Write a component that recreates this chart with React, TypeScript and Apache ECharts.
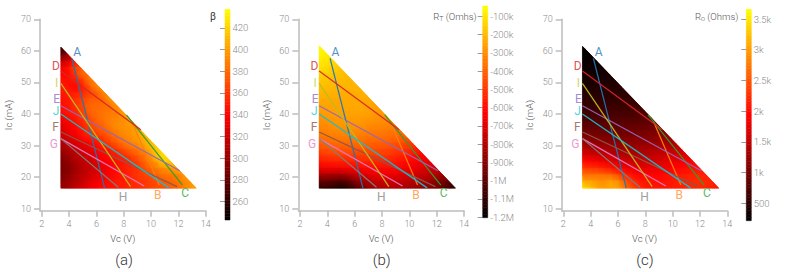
import React, { useEffect, useRef } from "react";
import * as echarts from "echarts";

const FONT = "Roboto";
const WEIGHT = 300;

const vcCenters = [3.65, 4.15, 4.65, 5.15, 5.65, 6.15, 6.65, 7.15, 7.65, 8.15, 8.65, 9.15, 9.65, 10.15, 10.65, 11.15, 11.65, 12.15, 12.65, 13.15];
const icCenters = [17.5, 19.5, 21.5, 23.5, 25.5, 27.5, 29.5, 31.5, 33.5, 35.5, 37.5, 39.5, 41.5, 43.5, 45.5, 47.5, 49.5, 51.5, 53.5, 55.5, 57.5, 59.5, 61.5];

const betaRows = [
  [300, 310, 320, 325, 335, 340, 345, 345, 350, 350, 355, 355, 360, 365, 370, 370, 375, 380, 390, 400],
  [295, 305, 310, 320, 330, 335, 340, 345, 350, 350, 355, 360, 360, 365, 370, 375, 380, 385, 395],
  [290, 300, 310, 315, 320, 330, 335, 340, 345, 350, 355, 360, 365, 370, 380, 385, 385, 390, 400],
  [290, 295, 305, 315, 320, 325, 335, 340, 345, 350, 355, 360, 370, 380, 390, 395, 400, 405],
  [290, 300, 310, 315, 320, 330, 335, 340, 345, 350, 355, 365, 380, 390, 405, 420, 415],
  [295, 305, 315, 320, 325, 335, 340, 345, 350, 355, 365, 375, 385, 400, 420, 425],
  [305, 310, 320, 325, 330, 340, 345, 350, 360, 370, 380, 385, 395, 410, 420],
  [310, 320, 325, 335, 340, 345, 355, 365, 375, 385, 390, 395, 405, 415],
  [320, 330, 335, 345, 350, 355, 365, 375, 385, 390, 395, 400, 410],
  [325, 335, 340, 350, 360, 370, 375, 385, 390, 395, 395, 405],
  [330, 340, 345, 355, 365, 375, 380, 390, 395, 395, 400],
  [335, 345, 350, 360, 370, 380, 385, 390, 390, 395, 405],
  [345, 350, 355, 365, 380, 380, 385, 385, 390, 405],
  [345, 350, 360, 370, 380, 380, 380, 385, 400],
  [345, 350, 360, 365, 375, 375, 380, 400],
  [350, 350, 350, 355, 365, 375, 395],
  [350, 345, 340, 355, 375, 395],
  [345, 345, 350, 365, 390],
  [340, 345, 365, 385],
  [335, 350, 370],
  [310, 335, 350],
  [280, 310],
  [260],
];

const rtRows = [
  [-1080, -1100, -1120, -1150, -1100, -1030, -950, -880, -830, -800, -800, -810, -820, -840, -860, -880, -910, -950, -1000, -1080],
  [-960, -980, -1000, -1030, -980, -900, -830, -780, -750, -740, -740, -750, -760, -780, -800, -820, -850, -890, -950],
  [-800, -820, -830, -830, -800, -760, -720, -690, -670, -670, -670, -680, -700, -720, -740, -760, -780, -810, -850],
  [-650, -650, -650, -650, -640, -630, -620, -610, -610, -610, -610, -620, -640, -660, -680, -700, -720, -750],
  [-570, -570, -560, -560, -560, -550, -550, -550, -550, -550, -560, -580, -600, -620, -640, -660, -680],
  [-510, -500, -490, -490, -490, -490, -490, -490, -500, -500, -520, -540, -560, -580, -610, -630],
  [-450, -440, -430, -430, -430, -430, -440, -450, -450, -460, -470, -490, -510, -530, -560],
  [-400, -390, -380, -380, -380, -380, -390, -400, -410, -410, -420, -440, -460, -490],
  [-360, -350, -340, -340, -340, -340, -350, -360, -370, -370, -380, -390, -410],
  [-330, -320, -310, -310, -310, -310, -320, -330, -340, -340, -350, -360],
  [-310, -300, -290, -280, -280, -280, -290, -310, -310, -320, -320],
  [-290, -280, -270, -270, -270, -270, -270, -280, -290, -290, -300],
  [-270, -260, -260, -250, -250, -250, -250, -260, -270, -270],
  [-250, -250, -250, -250, -240, -240, -240, -250, -260],
  [-230, -240, -240, -240, -240, -240, -230, -240],
  [-210, -220, -220, -230, -230, -230, -220],
  [-190, -200, -210, -210, -220, -210],
  [-170, -180, -190, -200, -210],
  [-140, -160, -180, -190],
  [-110, -140, -160],
  [-90, -110, -130],
  [-70, -90],
  [-60],
];

const roRows = [
  [3400, 3250, 3050, 3000, 3100, 3000, 2700, 2400, 2250, 2100, 2080, 2080, 2100, 2120, 2150, 2180, 2200, 2210, 2180, 2100],
  [3000, 3000, 2900, 2900, 3050, 2850, 2500, 2250, 2100, 2050, 2030, 2040, 2060, 2100, 2140, 2180, 2200, 2220, 2180],
  [2650, 2700, 2700, 2650, 2600, 2400, 2150, 2020, 1950, 1930, 1930, 1960, 2000, 2040, 2090, 2130, 2160, 2180, 2150],
  [2300, 2300, 2250, 2150, 2050, 1950, 1850, 1800, 1780, 1780, 1800, 1840, 1880, 1930, 1980, 2020, 2050, 2080],
  [2000, 1980, 1920, 1850, 1780, 1700, 1640, 1600, 1610, 1640, 1670, 1710, 1750, 1800, 1860, 1900, 1950],
  [1700, 1680, 1640, 1580, 1530, 1480, 1450, 1450, 1470, 1500, 1530, 1570, 1610, 1660, 1720, 1780],
  [1450, 1430, 1400, 1370, 1340, 1300, 1300, 1310, 1330, 1360, 1390, 1430, 1470, 1520, 1600],
  [1250, 1230, 1200, 1180, 1170, 1160, 1170, 1180, 1200, 1220, 1250, 1290, 1340, 1400],
  [1080, 1060, 1050, 1050, 1040, 1040, 1050, 1060, 1080, 1100, 1130, 1170, 1220],
  [930, 930, 930, 930, 930, 930, 940, 950, 970, 990, 1020, 1050],
  [810, 820, 820, 830, 830, 830, 840, 860, 870, 890, 920],
  [710, 720, 730, 730, 740, 740, 750, 760, 770, 790, 810],
  [630, 640, 650, 650, 660, 660, 670, 680, 690, 700],
  [560, 570, 580, 590, 600, 600, 600, 610, 620],
  [500, 510, 520, 530, 530, 540, 550, 550],
  [450, 460, 470, 480, 490, 490, 500],
  [400, 410, 420, 430, 440, 450],
  [360, 370, 380, 390, 400],
  [330, 340, 350, 350],
  [300, 310, 320],
  [270, 280, 290],
  [250, 270],
  [250],
];

const lineNames = ["A", "B", "C", "D", "E", "F", "G", "H", "I", "J"];
const lineColors = ["#1f77b4", "#ff7f0e", "#2ca02c", "#d62728", "#9467bd", "#8c564b", "#e377c2", "#7f7f7f", "#bcbd22", "#17becf"];
const labelColors = ["#4f92c6", "#ffa860", "#5fb85f", "#dd5557", "#a98bcf", "#a37b72", "#ee99d0", "#a0a0a0", "#d5d56a", "#55d5e0"];
const lineVcStart = [4.2, 8.6, 8.2, 3.4, 3.4, 3.4, 3.4, 3.4, 3.4, 3.4];
const lineIcStart = [57.6, 37.6, 39.7, 53.6, 42.6, 34.3, 32.2, 32.2, 49.7, 40];
const lineVcEnd = [6.6, 10.6, 12.3, 9.25, 12.1, 11.9, 9.5, 7.6, 8.5, 11.3];
const lineIcEnd = [16.6, 17.5, 17.5, 35, 22, 17, 17.2, 16.8, 17, 16.6];
const labelVc = [4.59, 10.49, 12.5, 3.05, 3.1, 3.02, 2.88, 7.95, 3.1, 3.05];
const labelIc = [59.5, 14.3, 14.9, 55.3, 44.9, 35.8, 30.4, 13.8, 49.7, 40.8];

const xTicks = [2, 4, 6, 8, 10, 12, 14];
const yTicks = [10, 20, 30, 40, 50, 60, 70];
const betaTicks = [260, 280, 300, 320, 340, 360, 380, 400, 420];
const rtTicks = [-100, -200, -300, -400, -500, -600, -700, -800, -900, -1000, -1100, -1200];
const roTicks = [500, 1000, 1500, 2000, 2500, 3000, 3500];

const fmtRt = (v: number) => (v <= -1000 ? `-${v === -1000 ? "1" : (-v / 1000).toFixed(1)}M` : `${v}k`);
const fmtRo = (v: number) => (v >= 1000 ? `${v / 1000}k` : `${v}`);
const fmtBeta = (v: number) => `${v}`;

const panels = [
  { rows: betaRows, ticks: betaTicks, fmt: fmtBeta, min: 243, max: 437, axisX: 40, two: 41.7, barX: 225, barTop: 9.3, barBottom: 220, hypo: [3.4, 61.2, 13.2, 17], capX: 124, cap: "(a)" },
  { rows: rtRows, ticks: rtTicks, fmt: fmtRt, min: -1203, max: -44, axisX: 298.3, two: 300, barX: 482.7, barTop: 6, barBottom: 217.7, hypo: [3.45, 61.4, 13.4, 16.4], capX: 381.7, cap: "(b)" },
  { rows: roRows, ticks: roTicks, fmt: fmtRo, min: 217, max: 3658, axisX: 561.7, two: 563.3, barX: 746.3, barTop: 9.3, barBottom: 220.7, hypo: [3.46, 61.2, 13.27, 17], capX: 645, cap: "(c)" },
];

const HALF_V = 0.25;
const HALF_I = 1;
const LEFT_VC = 3.4;
const BOTTOM_IC = 16.45;
const SOFT_V = 0.62;
const SOFT_I = 2.6;
const SOFT_R = 11;
const SOFT_A = 0.85;
const COLORS = ["#000000", "#ff0000", "#ffff00"];

// Clip a polygon by one half-plane given as a side function (inside when <= 0)
function clipBy(pts: number[][], side: (p: number[]) => number) {
  const out: number[][] = [];
  for (let i = 0; i < pts.length; i++) {
    const a = pts[i];
    const b = pts[(i + 1) % pts.length];
    const sa = side(a);
    const sb = side(b);
    if (sa <= 0) out.push(a);
    if ((sa < 0 && sb > 0) || (sa > 0 && sb < 0)) {
      const t = sa / (sa - sb);
      out.push([a[0] + (b[0] - a[0]) * t, a[1] + (b[1] - a[1]) * t]);
    }
  }
  return out;
}

function cellPoly(x0: number, x1: number, y0: number, y1: number, h: number[]) {
  let poly = [[x0, y0], [x1, y0], [x1, y1], [x0, y1]];
  poly = clipBy(poly, (p) => (h[2] - h[0]) * (p[1] - h[1]) - (h[3] - h[1]) * (p[0] - h[0]));
  poly = clipBy(poly, (p) => BOTTOM_IC - p[1]);
  poly = clipBy(poly, (p) => LEFT_VC - p[0]);
  return poly;
}

function buildOption() {
  const grid: any[] = [];
  const xAxis: any[] = [];
  const yAxis: any[] = [];
  const series: any[] = [];
  const visualMap: any[] = [];
  const graphic: any[] = [];
  const tickStyle = { color: "#bdbdbd", width: 1.5 };
  const labelStyle = { color: "#8a8a8a", fontSize: 9, fontFamily: FONT, fontWeight: WEIGHT };
  const nameStyle = { color: "#4a4a4a", fontSize: 9.5, fontFamily: FONT, fontWeight: WEIGHT };

  panels.forEach((p, i) => {
    const plotGrid = grid.length;
    const pxPerV = 13.67;
    const xMin = 2 - (p.two - p.axisX) / pxPerV;
    grid.push({ left: p.axisX, top: 19.3, width: 14 * pxPerV - 2 * pxPerV + (p.two - p.axisX), height: 191.4 });
    xAxis.push({
      type: "value", gridIndex: plotGrid, min: xMin, max: 14, splitLine: { show: false },
      name: "Vc (V)", nameLocation: "middle", nameGap: 21, nameTextStyle: nameStyle,
      axisLine: { show: true, onZero: false, lineStyle: tickStyle },
      axisTick: { show: true, length: 6, lineStyle: tickStyle, customValues: xTicks },
      axisLabel: { ...labelStyle, margin: 9, customValues: xTicks, showMinLabel: true, showMaxLabel: true, formatter: (v: number) => `${v}` },
    });
    yAxis.push({
      type: "value", gridIndex: plotGrid, min: 10 - 2 / 3.157, max: 70, splitLine: { show: false },
      name: "Ic (mA)", nameLocation: "middle", nameGap: 27, nameRotate: 90, nameTextStyle: nameStyle,
      axisLine: { show: true, onZero: false, lineStyle: tickStyle },
      axisTick: { show: true, length: 6, lineStyle: tickStyle, customValues: yTicks },
      axisLabel: { ...labelStyle, margin: 9, customValues: yTicks, showMinLabel: true, showMaxLabel: true, formatter: (v: number) => `${v}` },
    });

    const cells: number[][] = [];
    p.rows.forEach((row, r) => row.forEach((v, c) => cells.push([vcCenters[c], icCenters[r], v])));
    const heatIdx = series.length;
    series.push({
      type: "custom", name: `heat${i}`, xAxisIndex: plotGrid, yAxisIndex: plotGrid, z: 1, silent: true,
      encode: { x: 0, y: 1 }, data: cells,
      renderItem: (_: any, api: any) => {
        const x = api.value(0);
        const y = api.value(1);
        const poly = cellPoly(x - HALF_V, x + HALF_V, y - HALF_I, y + HALF_I, p.hypo);
        if (poly.length < 3) return null;
        const color = api.visual("color");
        return {
          type: "polygon",
          shape: { points: poly.map((q) => api.coord(q)) },
          style: { fill: color, stroke: color, lineWidth: 0.6 },
        };
      },
    });
    // Same cells again with soft edges, so that the field reads as a continuous surface
    const softIdx = series.length;
    series.push({
      type: "custom", name: `soft${i}`, xAxisIndex: plotGrid, yAxisIndex: plotGrid, z: 2, silent: true,
      encode: { x: 0, y: 1 }, data: cells,
      renderItem: (_: any, api: any) => {
        const x = api.value(0);
        const y = api.value(1);
        const poly = cellPoly(x - SOFT_V, x + SOFT_V, y - SOFT_I, y + SOFT_I, p.hypo);
        if (poly.length < 3) return null;
        const color = api.visual("color");
        const c = api.coord([x, y]);
        return {
          type: "polygon",
          shape: { points: poly.map((q) => api.coord(q)) },
          style: {
            fill: new echarts.graphic.RadialGradient(c[0], c[1], SOFT_R, [
              { offset: 0, color: echarts.color.modifyAlpha(color, SOFT_A) },
              { offset: 1, color: echarts.color.modifyAlpha(color, 0) },
            ], true),
          },
        };
      },
    });

    lineNames.forEach((name, k) => {
      series.push({
        type: "line", name: `${name}${i}`, xAxisIndex: plotGrid, yAxisIndex: plotGrid, z: 3, silent: true,
        showSymbol: false, symbol: "none", clip: false,
        lineStyle: { color: lineColors[k], width: 1.25, opacity: 0.95 },
        data: [[lineVcStart[k], lineIcStart[k]], [lineVcEnd[k], lineIcEnd[k]]],
      });
    });

    series.push({
      type: "custom", name: `labels${i}`, xAxisIndex: plotGrid, yAxisIndex: plotGrid, z: 4, silent: true, clip: false,
      encode: { x: 0, y: 1 }, data: labelVc.map((v, k) => [v, labelIc[k]]),
      renderItem: (params: any, api: any) => {
        const c = api.coord([api.value(0), api.value(1)]);
        return {
          type: "text", x: c[0], y: c[1],
          style: {
            text: lineNames[params.dataIndex], fill: labelColors[params.dataIndex],
            fontSize: 12, fontFamily: FONT, fontWeight: 400, align: "center", verticalAlign: "middle",
          },
        };
      },
    });

    // Colour bar
    const barGrid = grid.length;
    grid.push({ left: p.barX, top: p.barTop, width: 5, height: p.barBottom - p.barTop });
    xAxis.push({ type: "value", gridIndex: barGrid, min: 0, max: 1, show: false });
    yAxis.push({
      type: "value", gridIndex: barGrid, position: "right", min: p.min, max: p.max, splitLine: { show: false },
      axisLine: { show: false },
      axisTick: { show: true, inside: true, length: 5, lineStyle: { color: "#9a9a9a", width: 1 }, customValues: p.ticks },
      axisLabel: { ...labelStyle, fontSize: 9.5, margin: 2.5, customValues: p.ticks, formatter: p.fmt },
    });
    const bandCount = 64;
    const step = (p.max - p.min) / bandCount;
    const bands: number[][] = [];
    for (let b = 0; b < bandCount; b++) bands.push([0, p.min + b * step, p.min + (b + 1) * step, p.min + (b + 0.5) * step]);
    const barIdx = series.length;
    series.push({
      type: "custom", name: `bar${i}`, xAxisIndex: barGrid, yAxisIndex: barGrid, z: 1, silent: true,
      encode: { x: 0, y: [1, 2] }, data: bands,
      renderItem: (_: any, api: any) => {
        const a = api.coord([0, api.value(1)]);
        const b = api.coord([1, api.value(2)]);
        const color = api.visual("color");
        return {
          type: "rect",
          shape: { x: a[0], y: b[1], width: b[0] - a[0], height: a[1] - b[1] },
          style: { fill: color, stroke: color, lineWidth: 0.5 },
        };
      },
    });
    visualMap.push(
      { show: false, seriesIndex: [heatIdx, softIdx], dimension: 2, min: p.min, max: p.max, inRange: { color: COLORS } },
      { show: false, seriesIndex: barIdx, dimension: 3, min: p.min, max: p.max, inRange: { color: COLORS } },
    );

    graphic.push({
      type: "text", x: p.capX, y: 260,
      style: { text: p.cap, fill: "#333333", fontSize: 15, fontFamily: FONT, fontWeight: WEIGHT, align: "center", verticalAlign: "middle" },
    });
  });

  const rich = {
    a: { fontSize: 9.5, fontFamily: FONT, fontWeight: WEIGHT, fill: "#555555", color: "#555555", lineHeight: 12 },
    s: { fontSize: 7, fontFamily: FONT, fontWeight: WEIGHT, fill: "#555555", color: "#555555", lineHeight: 12, verticalAlign: "bottom" },
  };
  graphic.push(
    { type: "text", x: 213, y: 16, style: { text: "β", fill: "#333333", fontSize: 10, fontFamily: FONT, align: "center", verticalAlign: "middle" } },
    { type: "text", x: 476.7, y: 16, style: { text: "{a|R}{s|T}{a| (Omhs)}", rich, align: "right", verticalAlign: "middle" } },
    { type: "text", x: 738.3, y: 16, style: { text: "{a|R}{s|o}{a| (Ohms)}", rich, align: "right", verticalAlign: "middle" } },
  );

  return { animation: false, backgroundColor: "#ffffff", grid, xAxis, yAxis, series, visualMap, graphic };
}

export default function App() {
  const ref = useRef<HTMLDivElement>(null);
  useEffect(() => {
    const chart = echarts.init(ref.current!, undefined, { renderer: "svg" });
    chart.setOption(buildOption() as any);
    return () => chart.dispose();
  }, []);
  return <div ref={ref} style={{ position: "absolute", left: 0, top: 0, width: 789, height: 272 }} />;
}
